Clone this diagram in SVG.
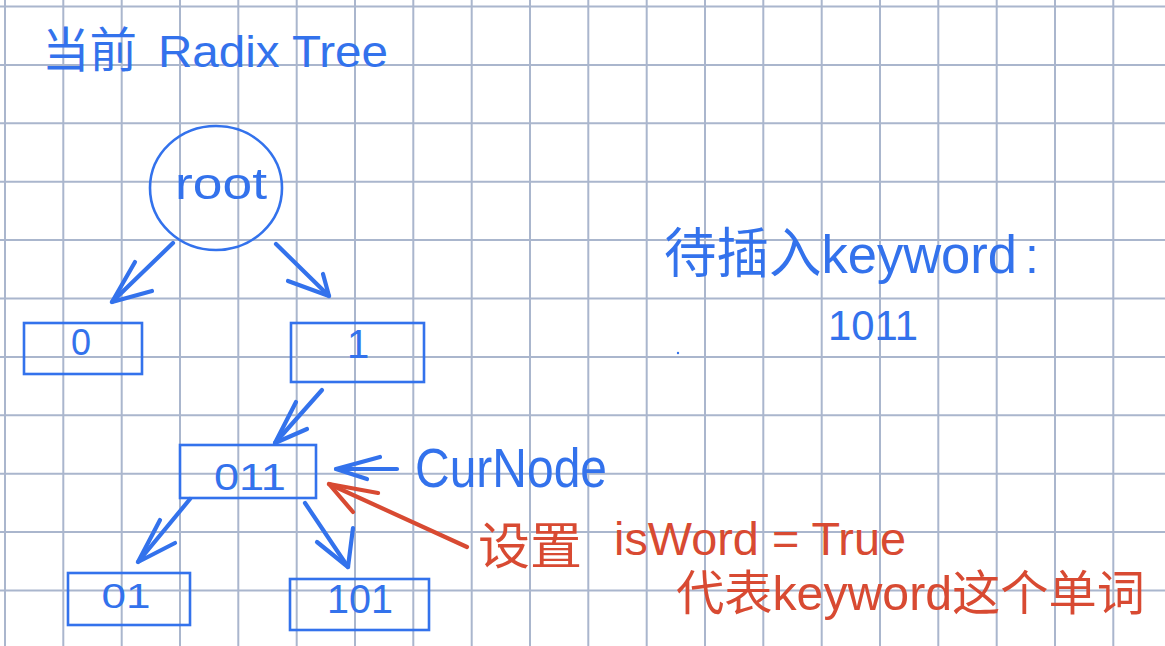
<svg xmlns="http://www.w3.org/2000/svg" width="1165" height="646" viewBox="0 0 1165 646">
  <style>
    .grid line { stroke: #aab6cd; stroke-width: 2; }
    .box { fill: none; stroke: #3372ec; stroke-width: 2.6; }
    .blue { fill: #3372ec; }
    .red { fill: #d84a32; }
    .t { font-family: "Liberation Sans", "Noto Sans CJK SC", sans-serif; }
    .cjk { font-family: "Noto Sans CJK SC", "Liberation Sans", sans-serif; }
    .arrow { fill: none; stroke-width: 4.2; stroke-linecap: round; stroke-linejoin: round; }
    .ab { stroke: #3372ec; }
    .ar { stroke: #d84a32; }
  </style>
  <rect width="1165" height="646" fill="#ffffff"/>
  <g class="grid">
    <line x1="5" y1="0" x2="5" y2="646"/>
    <line x1="63.3" y1="0" x2="63.3" y2="646"/>
    <line x1="121.7" y1="0" x2="121.7" y2="646"/>
    <line x1="180" y1="0" x2="180" y2="646"/>
    <line x1="238.3" y1="0" x2="238.3" y2="646"/>
    <line x1="296.7" y1="0" x2="296.7" y2="646"/>
    <line x1="355" y1="0" x2="355" y2="646"/>
    <line x1="413.3" y1="0" x2="413.3" y2="646"/>
    <line x1="471.7" y1="0" x2="471.7" y2="646"/>
    <line x1="530" y1="0" x2="530" y2="646"/>
    <line x1="588.3" y1="0" x2="588.3" y2="646"/>
    <line x1="646.7" y1="0" x2="646.7" y2="646"/>
    <line x1="705" y1="0" x2="705" y2="646"/>
    <line x1="763.3" y1="0" x2="763.3" y2="646"/>
    <line x1="821.7" y1="0" x2="821.7" y2="646"/>
    <line x1="880" y1="0" x2="880" y2="646"/>
    <line x1="938.3" y1="0" x2="938.3" y2="646"/>
    <line x1="996.7" y1="0" x2="996.7" y2="646"/>
    <line x1="1055" y1="0" x2="1055" y2="646"/>
    <line x1="1113.3" y1="0" x2="1113.3" y2="646"/>
    <line x1="0" y1="6.5" x2="1165" y2="6.5"/>
    <line x1="0" y1="64.9" x2="1165" y2="64.9"/>
    <line x1="0" y1="123.3" x2="1165" y2="123.3"/>
    <line x1="0" y1="181.7" x2="1165" y2="181.7"/>
    <line x1="0" y1="240.1" x2="1165" y2="240.1"/>
    <line x1="0" y1="298.5" x2="1165" y2="298.5"/>
    <line x1="0" y1="356.9" x2="1165" y2="356.9"/>
    <line x1="0" y1="415.3" x2="1165" y2="415.3"/>
    <line x1="0" y1="473.7" x2="1165" y2="473.7"/>
    <line x1="0" y1="532.1" x2="1165" y2="532.1"/>
    <line x1="0" y1="590.5" x2="1165" y2="590.5"/>
  </g>

  <g id="title">
    <text class="cjk blue" x="42" y="67" font-size="48" textLength="95" lengthAdjust="spacingAndGlyphs">当前</text>
    <text class="t blue" x="158" y="67" font-size="44" textLength="230" lengthAdjust="spacingAndGlyphs">Radix Tree</text>
  </g>

  <g id="node-root">
    <ellipse cx="216" cy="188" rx="66" ry="62" fill="none" stroke="#3372ec" stroke-width="2.6"/>
    <text class="t blue" x="221" y="199" font-size="44" text-anchor="middle" textLength="92" lengthAdjust="spacingAndGlyphs">root</text>
  </g>

  <g id="node-0">
    <rect class="box" x="24" y="323" width="118" height="51"/>
    <text class="t blue" x="81" y="355" font-size="36" text-anchor="middle">0</text>
  </g>

  <g id="node-1">
    <rect class="box" x="291" y="323" width="133" height="59"/>
    <text class="t blue" x="358" y="358" font-size="40" text-anchor="middle">1</text>
  </g>

  <g id="node-011">
    <rect class="box" x="180" y="445" width="136" height="53"/>
    <text class="t blue" x="250" y="490" font-size="37" text-anchor="middle" textLength="72" lengthAdjust="spacingAndGlyphs">011</text>
  </g>

  <g id="node-01">
    <rect class="box" x="68" y="573" width="122" height="52"/>
    <text class="t blue" x="126" y="608" font-size="35" text-anchor="middle" textLength="49" lengthAdjust="spacingAndGlyphs">01</text>
  </g>

  <g id="node-101">
    <rect class="box" x="290" y="579" width="139" height="51"/>
    <text class="t blue" x="360" y="613" font-size="40" text-anchor="middle" textLength="66" lengthAdjust="spacingAndGlyphs">101</text>
  </g>

  <g id="connectors">
    <path class="arrow ab" d="M173,243 L112,302"/>
    <path class="arrow ab" d="M135,262 L112,302 L152,291"/>
    <path class="arrow ab" d="M276,244 L329,296"/>
    <path class="arrow ab" d="M288,281 L329,296 L323,274"/>
    <path class="arrow ab" d="M322,390 L275,443"/>
    <path class="arrow ab" d="M296,402 L275,443 L307,429"/>
    <path class="arrow ab" d="M190,499 L138,562"/>
    <path class="arrow ab" d="M160,520 L138,562 L175,543"/>
    <path class="arrow ab" d="M305,503 L348,567"/>
    <path class="arrow ab" d="M317,542 L348,567 L353,528"/>
    <path class="arrow ab" d="M397,469 L336,469"/>
    <path class="arrow ab" d="M380,457 L336,469 L367,479"/>
    <path class="arrow ar" d="M467,547 L329,484"/>
    <path class="arrow ar" d="M378,493 L329,484 L353,512"/>
  </g>

  <g id="label-curnode">
    <text class="t blue" x="415" y="487" font-size="56" textLength="192" lengthAdjust="spacingAndGlyphs">CurNode</text>
  </g>

  <g id="label-keyword">
    <text class="t blue" x="664" y="273" font-size="54" textLength="353" lengthAdjust="spacingAndGlyphs">待插入keyword</text>
    <text class="t blue" x="1025" y="273" font-size="50">:</text>
    <text class="t blue" x="828" y="340" font-size="42" textLength="90" lengthAdjust="spacingAndGlyphs">1011</text>
    <circle cx="678" cy="353" r="1.2" fill="#3372ec"/>
  </g>

  <g id="label-isword">
    <text class="cjk red" x="478" y="564" font-size="50" textLength="104" lengthAdjust="spacingAndGlyphs">设置</text>
    <text class="t red" x="614" y="555" font-size="46" textLength="292" lengthAdjust="spacingAndGlyphs">isWord = True</text>
    <text class="t red" x="676" y="610" font-size="48" textLength="469" lengthAdjust="spacingAndGlyphs">代表keyword这个单词</text>
  </g>
</svg>
